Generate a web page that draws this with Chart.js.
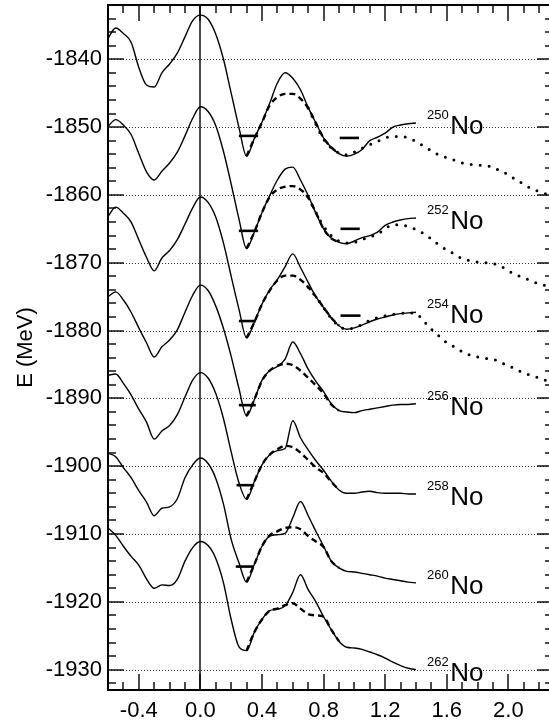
<!DOCTYPE html>
<html>
<head>
<meta charset="utf-8">
<script src="https://cdn.jsdelivr.net/npm/chart.js@4.4.0/dist/chart.umd.min.js"></script>
<style>
  html, body { margin: 0; padding: 0; background: #fff; overflow: hidden; }
  #wrap { width: 549px; height: 723px; overflow: hidden; }
  canvas { display: block; }
</style>
</head>
<body>
<div id="wrap"><canvas id="chart" width="556" height="723"></canvas></div>
<script>
// === DATA ===
const isotopes = ['250', '252', '254', '256', '258', '260', '262'];
const xTickLabels = [-0.4, 0.0, 0.4, 0.8, 1.2, 1.6, 2.0];
const yTickLabels = [-1930, -1920, -1910, -1900, -1890, -1880, -1870, -1860, -1850, -1840];
const xMinorTicks = [-0.6, -0.5, -0.4, -0.3, -0.2, -0.1, 0, 0.1, 0.2, 0.3, 0.4, 0.5, 0.6, 0.7, 0.8,
  0.9, 1.0, 1.1, 1.2, 1.3, 1.4, 1.5, 1.6, 1.7, 1.8, 1.9, 2.0, 2.1, 2.2];

// full solid curves
const xSolid = [-0.6, -0.55, -0.5, -0.45, -0.4, -0.35, -0.3, -0.25, -0.2, -0.15, -0.1, -0.05, 0,
  0.05, 0.1, 0.15, 0.2, 0.25, 0.3, 0.35, 0.4, 0.45, 0.5, 0.55, 0.6, 0.65, 0.7, 0.75, 0.8,
  0.85, 0.9, 0.95, 1.0, 1.05, 1.1, 1.15, 1.2, 1.25, 1.3, 1.35, 1.4];
const e250 = [-1836.9, -1835.4, -1836.2, -1837.5, -1841.2, -1843.8, -1844.1, -1842.0, -1840.7, -1839.1, -1836.7, -1834.3, -1833.5,
  -1834.1, -1836.3, -1840.0, -1845.0, -1850.0, -1854.3, -1851.7, -1849.3, -1846.5, -1843.5, -1842.0, -1842.8, -1844.5, -1847.1, -1849.4, -1851.6,
  -1853.0, -1853.9, -1854.3, -1854.0, -1853.3, -1852.0, -1851.5, -1850.9, -1850.0, -1849.7, -1849.5, -1849.4];
const e252 = [-1849.9, -1848.9, -1849.7, -1851.1, -1853.9, -1856.6, -1857.8, -1856.5, -1855.3, -1853.7, -1851.3, -1848.7, -1847.0,
  -1847.7, -1849.8, -1853.6, -1858.4, -1863.5, -1867.9, -1865.5, -1862.6, -1860.1, -1857.8, -1856.2, -1855.9, -1857.8, -1860.1, -1862.7, -1865.0,
  -1866.4, -1867.0, -1867.2, -1866.8, -1866.3, -1866.0, -1865.5, -1864.5, -1864.0, -1863.7, -1863.5, -1863.4];
const e254 = [-1863.2, -1861.8, -1862.7, -1864.0, -1866.6, -1869.2, -1871.2, -1869.3, -1868.2, -1866.6, -1864.3, -1861.9, -1860.3,
  -1861.1, -1863.3, -1867.1, -1872.0, -1876.8, -1881.1, -1878.8, -1876.1, -1874.0, -1872.5, -1870.6, -1868.7, -1870.7, -1872.9, -1875.0, -1876.6,
  -1878.1, -1879.3, -1879.8, -1879.6, -1879.2, -1878.7, -1878.3, -1878.0, -1877.7, -1877.5, -1877.4, -1877.3];
const e256 = [-1875.0, -1874.3, -1875.5, -1877.3, -1879.6, -1881.8, -1883.9, -1882.4, -1881.4, -1879.9, -1877.3, -1874.8, -1873.3,
  -1874.1, -1876.4, -1879.7, -1883.8, -1888.5, -1892.6, -1890.2, -1887.3, -1885.9, -1885.3, -1884.2, -1881.7, -1883.4, -1885.7, -1887.5, -1889.0,
  -1890.8, -1891.8, -1892.0, -1892.1, -1891.8, -1891.6, -1891.4, -1891.2, -1891.0, -1890.9, -1890.9, -1890.8];
const e258 = [-1886.6, -1886.4, -1887.8, -1889.5, -1891.6, -1893.5, -1896.0, -1894.8, -1894.0, -1892.4, -1889.8, -1887.3, -1886.2,
  -1887.0, -1889.3, -1893.0, -1897.9, -1902.4, -1904.9, -1902.3, -1899.8, -1898.3, -1897.7, -1897.4, -1893.3, -1895.8, -1897.6, -1899.2, -1900.6,
  -1902.2, -1903.5, -1904.0, -1904.0, -1903.8, -1903.7, -1903.9, -1904.0, -1904.0, -1904.0, -1904.1, -1904.1];
const e260 = [-1898.1, -1898.6, -1900.2, -1901.7, -1903.6, -1905.3, -1907.3, -1906.2, -1906.0, -1904.8, -1901.7, -1899.8, -1898.8,
  -1899.6, -1901.8, -1905.6, -1910.8, -1914.2, -1917.1, -1914.5, -1911.8, -1910.3, -1910.1, -1909.9, -1907.6, -1905.2, -1907.3, -1909.6, -1911.8,
  -1914.0, -1915.0, -1915.5, -1915.6, -1915.8, -1916.0, -1916.2, -1916.5, -1916.7, -1916.9, -1917.1, -1917.2];
const e262 = [-1909.1, -1910.2, -1911.8, -1913.3, -1914.6, -1916.6, -1918.0, -1917.5, -1917.6, -1916.7, -1914.0, -1912.0, -1911.1,
  -1911.7, -1913.6, -1917.2, -1922.6, -1926.6, -1927.2, -1924.5, -1922.6, -1921.3, -1921.1, -1920.6, -1918.6, -1916.0, -1918.2, -1920.0, -1922.2,
  -1924.1, -1925.8, -1926.7, -1926.8, -1927.0, -1927.4, -1927.8, -1928.3, -1928.9, -1929.4, -1929.8, -1930.0];

// dashed curves over the second barrier
const xDashed = [0.3, 0.35, 0.4, 0.45, 0.5, 0.55, 0.6, 0.65, 0.7, 0.75, 0.8, 0.85, 0.9];
const d250 = [-1854.3, -1851.7, -1849.3, -1846.8, -1845.6, -1845.1, -1845.1, -1845.8, -1847.2, -1849.4, -1851.6, -1853.0, -1853.9];
const d252 = [-1867.9, -1865.5, -1862.6, -1860.3, -1859.2, -1858.8, -1858.7, -1859.2, -1860.4, -1862.6, -1865.0, -1866.4, -1867.0];
const d254 = [-1881.1, -1878.8, -1876.1, -1874.1, -1872.6, -1871.9, -1871.9, -1872.5, -1873.6, -1875.0, -1876.6, -1878.1, -1879.3];
const d256 = [-1892.6, -1890.2, -1887.4, -1885.9, -1885.2, -1884.9, -1885.1, -1885.9, -1887.0, -1888.1, -1889.3, -1890.9, -1891.8];
const d258 = [-1904.9, -1902.3, -1899.8, -1898.3, -1897.5, -1897.0, -1897.2, -1898.0, -1899.1, -1900.2, -1901.0, -1902.3, -1903.5];
const d260 = [-1917.1, -1914.5, -1911.8, -1910.2, -1909.6, -1909.1, -1909.0, -1909.3, -1910.3, -1911.1, -1911.9, -1914.0, -1915.0];
const d262 = [-1927.2, -1924.5, -1922.6, -1921.3, -1921.0, -1920.5, -1920.2, -1921.0, -1921.8, -1922.0, -1922.2, -1924.1, -1925.8];

// dotted curves (250, 252, 254)
const xDotted = [0.7, 0.75, 0.8, 0.85, 0.9, 0.95, 1.0, 1.05, 1.1, 1.15, 1.2, 1.25, 1.3, 1.35, 1.4, 1.45, 1.5,
  1.55, 1.6, 1.65, 1.7, 1.75, 1.8, 1.85, 1.9, 1.95, 2.0, 2.05, 2.1, 2.15, 2.2, 2.25, 2.3];
const p250 = [-1847.2, -1849.6, -1851.8, -1853.1, -1853.8, -1854.1, -1853.7, -1853.1, -1852.6, -1852.1, -1851.6, -1851.4, -1851.4, -1851.6, -1852.1, -1852.8, -1853.5,
  -1854.1, -1854.5, -1854.9, -1855.3, -1855.5, -1855.6, -1855.7, -1855.9, -1856.5, -1857.0, -1857.8, -1858.4, -1859.1, -1859.5, -1859.9, -1860.3];
const p252 = [-1860.3, -1862.6, -1864.6, -1866.0, -1866.8, -1867.1, -1867.0, -1866.6, -1866.2, -1865.8, -1865.0, -1864.4, -1864.4, -1864.7, -1865.1, -1865.7, -1866.5,
  -1867.4, -1868.1, -1868.7, -1869.4, -1869.7, -1869.9, -1870.0, -1870.1, -1870.5, -1871.2, -1871.8, -1872.2, -1872.7, -1873.1, -1873.4, -1873.7];
const p254 = [-1873.6, -1875.0, -1876.6, -1878.2, -1879.3, -1879.8, -1879.6, -1879.1, -1878.5, -1878.1, -1877.8, -1877.6, -1877.5, -1877.4, -1877.5, -1878.6, -1879.8,
  -1880.8, -1881.8, -1882.4, -1883.1, -1883.6, -1883.9, -1884.1, -1884.2, -1884.7, -1885.2, -1885.7, -1886.3, -1886.6, -1887.0, -1887.4, -1887.8];

// short level bars: first well (250..260) and second well (250..254)
const bar1E = [-1851.3, -1865.3, -1878.6, -1891.0, -1902.8, -1914.8];
const bar1From = [0.25, 0.25, 0.25, 0.25, 0.235, 0.23];
const bar1To = [0.375, 0.375, 0.36, 0.36, 0.35, 0.345];
const bar2E = [-1851.6, -1865.0, -1877.8];
const bar2From = [0.905, 0.91, 0.91];
const bar2To = [1.03, 1.035, 1.04];

const solidSets = [e250, e252, e254, e256, e258, e260, e262];
const dashedSets = [d250, d252, d254, d256, d258, d260, d262];
const dottedSets = [p250, p252, p254];

// === BUILD DATASETS ===
const FONT = '"Liberation Sans", Arial, Helvetica, sans-serif';
const pts = (xs, ys) => xs.map((x, i) => ({ x: x, y: ys[i] }));
let datasets = [];

solidSets.forEach(ys => datasets.push({
  data: pts(xSolid, ys), borderColor: '#000', borderWidth: 1.4,
  showLine: true, pointRadius: 0, cubicInterpolationMode: 'monotone'
}));
dashedSets.forEach(ys => datasets.push({
  data: pts(xDashed, ys), borderColor: '#000', borderWidth: 2.4, borderDash: [6, 4],
  showLine: true, pointRadius: 0, cubicInterpolationMode: 'monotone'
}));
dottedSets.forEach(ys => datasets.push({
  data: pts(xDotted, ys), borderColor: '#000', borderWidth: 3, borderDash: [0, 9],
  borderCapStyle: 'round', showLine: true, pointRadius: 0, cubicInterpolationMode: 'monotone'
}));
bar1E.forEach((e, i) => datasets.push({
  data: [{ x: bar1From[i], y: e }, { x: bar1To[i], y: e }], borderColor: '#000', borderWidth: 2.6,
  showLine: true, pointRadius: 0
}));
bar2E.forEach((e, i) => datasets.push({
  data: [{ x: bar2From[i], y: e }, { x: bar2To[i], y: e }], borderColor: '#000', borderWidth: 2.6,
  showLine: true, pointRadius: 0
}));

// === GRID, ZERO LINE, FRAME, TICKS (drawn before the curves) ===
const framePlugin = {
  id: 'framePlugin',
  beforeDatasetsDraw(chart) {
    const { ctx, chartArea: a, scales: { x, y } } = chart;
    const L = Math.round(a.left), R = Math.round(a.right), T = Math.round(a.top), B = Math.round(a.bottom);
    ctx.save();
    ctx.strokeStyle = '#333';
    ctx.lineWidth = 1;
    ctx.setLineDash([1, 2]);
    yTickLabels.forEach(v => {
      const py = Math.round(y.getPixelForValue(v)) + 0.5;
      ctx.beginPath(); ctx.moveTo(L, py); ctx.lineTo(R, py); ctx.stroke();
    });
    ctx.setLineDash([]);

    ctx.fillStyle = '#000';
    // zero line
    const px0 = Math.round(x.getPixelForValue(0));
    ctx.fillRect(px0 - 0.7, T, 1.4, B - T);

    // frame
    ctx.fillRect(L - 1, T - 1, 2, B - T + 2);
    ctx.fillRect(R - 1, T - 1, 2, B - T + 2);
    ctx.fillRect(L - 1, T - 1, R - L + 2, 2);
    ctx.fillRect(L - 1, B - 1, R - L + 2, 2);

    // inward ticks on all four sides
    xMinorTicks.forEach(v => {
      const px = Math.round(x.getPixelForValue(v));
      const len = xTickLabels.some(t => Math.abs(t - v) < 1e-6) ? 16 : 8;
      ctx.fillRect(px - 0.7, B - len, 1.4, len);
      ctx.fillRect(px - 0.7, T, 1.4, len);
    });
    for (let v = -1932; v <= -1832; v += 2) {
      const py = Math.round(y.getPixelForValue(v));
      const len = (v % 10 === 0) ? 16 : 8;
      ctx.fillRect(L, py - 0.7, len, 1.4);
      ctx.fillRect(R - len, py - 0.7, len, 1.4);
    }
    ctx.restore();
  },
  afterDatasetsDraw(chart) {
    const { ctx, scales: { x, y } } = chart;
    ctx.save();
    ctx.fillStyle = '#000';
    ctx.textBaseline = 'alphabetic';
    ctx.textAlign = 'left';
    isotopes.forEach((iso, i) => {
      const ys = solidSets[i];
      const px = x.getPixelForValue(xSolid[xSolid.length - 1]) + 11;
      const py = y.getPixelForValue(ys[ys.length - 1] - 1.6);
      ctx.font = '13px ' + FONT;
      ctx.fillText(iso, px, py - 15);
      const w = ctx.measureText(iso).width;
      ctx.font = '26px ' + FONT;
      ctx.fillText('No', px + w + 1.5, py);
    });
    ctx.restore();
  }
};

// === CHART ===
const chart = new Chart(document.getElementById('chart'), {
  type: 'scatter',
  data: { datasets: datasets },
  options: {
    responsive: false,
    animation: false,
    layout: { padding: { top: 5, right: 3, left: 0, bottom: 0 } },
    plugins: { legend: { display: false }, tooltip: { enabled: false } },
    scales: {
      x: {
        type: 'linear', min: -0.6, max: 2.29,
        afterBuildTicks: s => { s.ticks = xTickLabels.map(v => ({ value: v })); },
        afterFit: s => { s.height = 33; s.paddingLeft = 0; s.paddingRight = 0; },
        grid: { display: false, drawTicks: false },
        border: { display: false },
        ticks: { color: '#000', padding: 8, font: { family: FONT, size: 22 }, callback: v => v.toFixed(1) }
      },
      y: {
        type: 'linear', min: -1933, max: -1832,
        afterBuildTicks: s => { s.ticks = yTickLabels.map(v => ({ value: v })); },
        afterFit: s => { s.width = 108; s.paddingTop = 0; s.paddingBottom = 0; },
        grid: { display: false, drawTicks: false },
        border: { display: false },
        ticks: { color: '#000', padding: 6, font: { family: FONT, size: 22 }, callback: v => String(v) },
        title: { display: true, text: 'E (MeV)', color: '#000', padding: { top: 13, bottom: 0 }, font: { family: FONT, size: 22, weight: 'normal' } }
      }
    }
  },
  plugins: [framePlugin]
});
</script>
</body>
</html>
